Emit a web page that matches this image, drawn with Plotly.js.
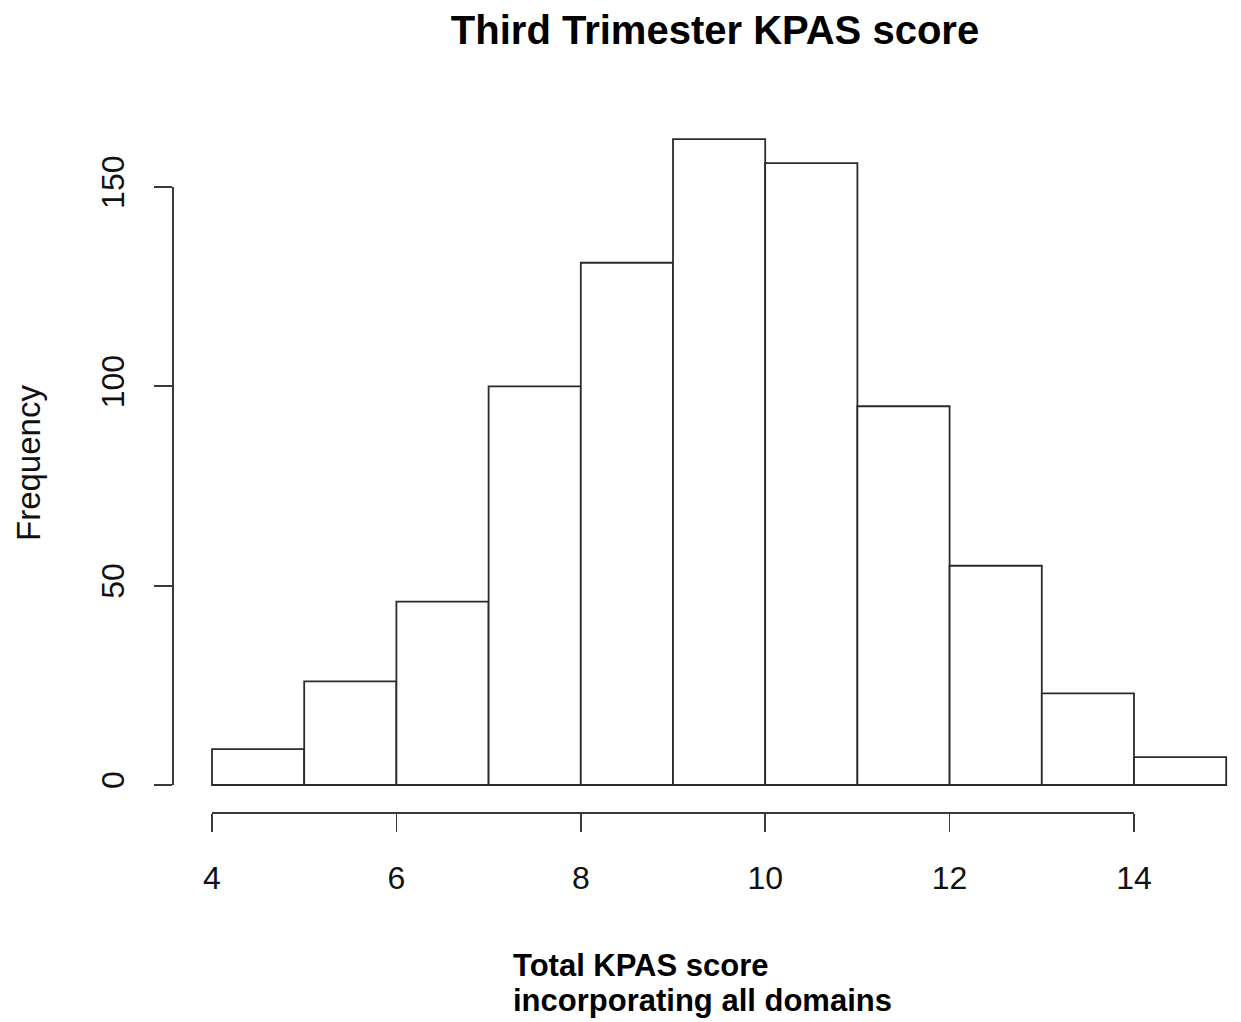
<!DOCTYPE html>
<html><head><meta charset="utf-8">
<script src="https://cdn.plot.ly/plotly-3.0.1.min.js"></script>
<style>html,body{margin:0;padding:0;background:#fff}#chart{width:1241px;height:1022px}</style>
</head><body><div id="chart"></div>
<script>
// ---- data ----
const binEdges = [4, 5, 6, 7, 8, 9, 10, 11, 12, 13, 14, 15];
const frequencies = [9, 26, 46, 100, 131, 162, 156, 95, 55, 23, 7];
const xTickValues = [4, 6, 8, 10, 12, 14];
const yTickValues = [0, 50, 100, 150];
const chartTitle = 'Third Trimester KPAS score';
const yTitle = 'Frequency';
const xTitleLines = ['Total KPAS score', 'incorporating all domains'];

// ---- geometry (pixels of the 1241x1022 canvas) ----
const W = 1241, H = 1022;
const px4 = 212, px14 = 1134, pxPerX = (px14 - px4) / 10;
const py0 = 785, py150 = 187, pxPerY = (py0 - py150) / 150;
const plotL = 165, plotR = 1238, plotT = 110, plotB = 797;
const fx = p => p / W, fy = p => 1 - p / H;

const binCenters = frequencies.map((_, i) => (binEdges[i] + binEdges[i + 1]) / 2);
const binWidths = frequencies.map((_, i) => binEdges[i + 1] - binEdges[i]);

const lineColor = '#2b2b2b';
const axisColor = '#3a3a3a';
const fam = 'Liberation Sans, Arial, Helvetica, sans-serif';

const bars = {
  type: 'bar', x: binCenters, y: frequencies, width: binWidths,
  marker: {color: '#ffffff', line: {color: lineColor, width: 1.8}},
  xaxis: 'x', yaxis: 'y', showlegend: false
};
const axisHolder = {type: 'scatter', x: [], y: [], xaxis: 'x2', yaxis: 'y2', showlegend: false, hoverinfo: 'skip'};

const layout = {
  width: W, height: H,
  margin: {l: 0, r: 0, t: 0, b: 0},
  paper_bgcolor: '#ffffff', plot_bgcolor: 'rgba(0,0,0,0)',
  showlegend: false,
  bargap: 0,
  title: {text: chartTitle, x: fx(715), xanchor: 'center', xref: 'paper', y: fy(30), yanchor: 'middle', yref: 'paper',
          font: {family: fam, size: 40, weight: 'bold', color: '#000'}},
  xaxis: {domain: [fx(plotL), fx(plotR)], range: [4 - (px4 - plotL) / pxPerX, 4 + (plotR - px4) / pxPerX],
          visible: false, anchor: 'y', fixedrange: true},
  yaxis: {domain: [fy(plotB), fy(plotT)], range: [-(plotB - py0) / pxPerY, 150 + (py150 - plotT) / pxPerY],
          visible: false, anchor: 'x', fixedrange: true},
  xaxis2: {domain: [fx(px4), fx(px14)], range: [4, 14], anchor: 'free', position: fy(812),
           tickmode: 'array', tickvals: xTickValues, ticktext: xTickValues.map(String),
           ticks: 'outside', ticklen: 18, tickwidth: 1.8, tickcolor: axisColor, ticklabelstandoff: 19,
           showline: true, linecolor: axisColor, linewidth: 1.8, showgrid: false, zeroline: false,
           tickfont: {family: fam, size: 32, color: '#111'}, fixedrange: true},
  yaxis2: {domain: [fy(py0), fy(py150)], range: [0, 150], anchor: 'free', position: fx(172),
           tickmode: 'array', tickvals: yTickValues, ticktext: yTickValues.map(String), tickangle: -90,
           ticks: 'outside', ticklen: 18, tickwidth: 1.8, tickcolor: axisColor, ticklabelstandoff: 17,
           showline: true, linecolor: axisColor, linewidth: 1.8, showgrid: false, zeroline: false,
           tickfont: {family: fam, size: 32, color: '#111'}, fixedrange: true},
  annotations: [
    {text: yTitle, xref: 'paper', yref: 'paper', x: fx(28), y: fy(463), xanchor: 'center', yanchor: 'middle',
     textangle: -90, showarrow: false, font: {family: fam, size: 33, color: '#111'}},
    {text: xTitleLines[0], xref: 'paper', yref: 'paper', x: fx(511), y: fy(965), xanchor: 'left', yanchor: 'middle',
     showarrow: false, font: {family: fam, size: 31, weight: 'bold', color: '#000'}},
    {text: xTitleLines[1], xref: 'paper', yref: 'paper', x: fx(511), y: fy(1000), xanchor: 'left', yanchor: 'middle',
     showarrow: false, font: {family: fam, size: 31, weight: 'bold', color: '#000'}}
  ]
};

Plotly.newPlot('chart', [bars, axisHolder], layout, {displayModeBar: false, staticPlot: true});
</script>
</body></html>
